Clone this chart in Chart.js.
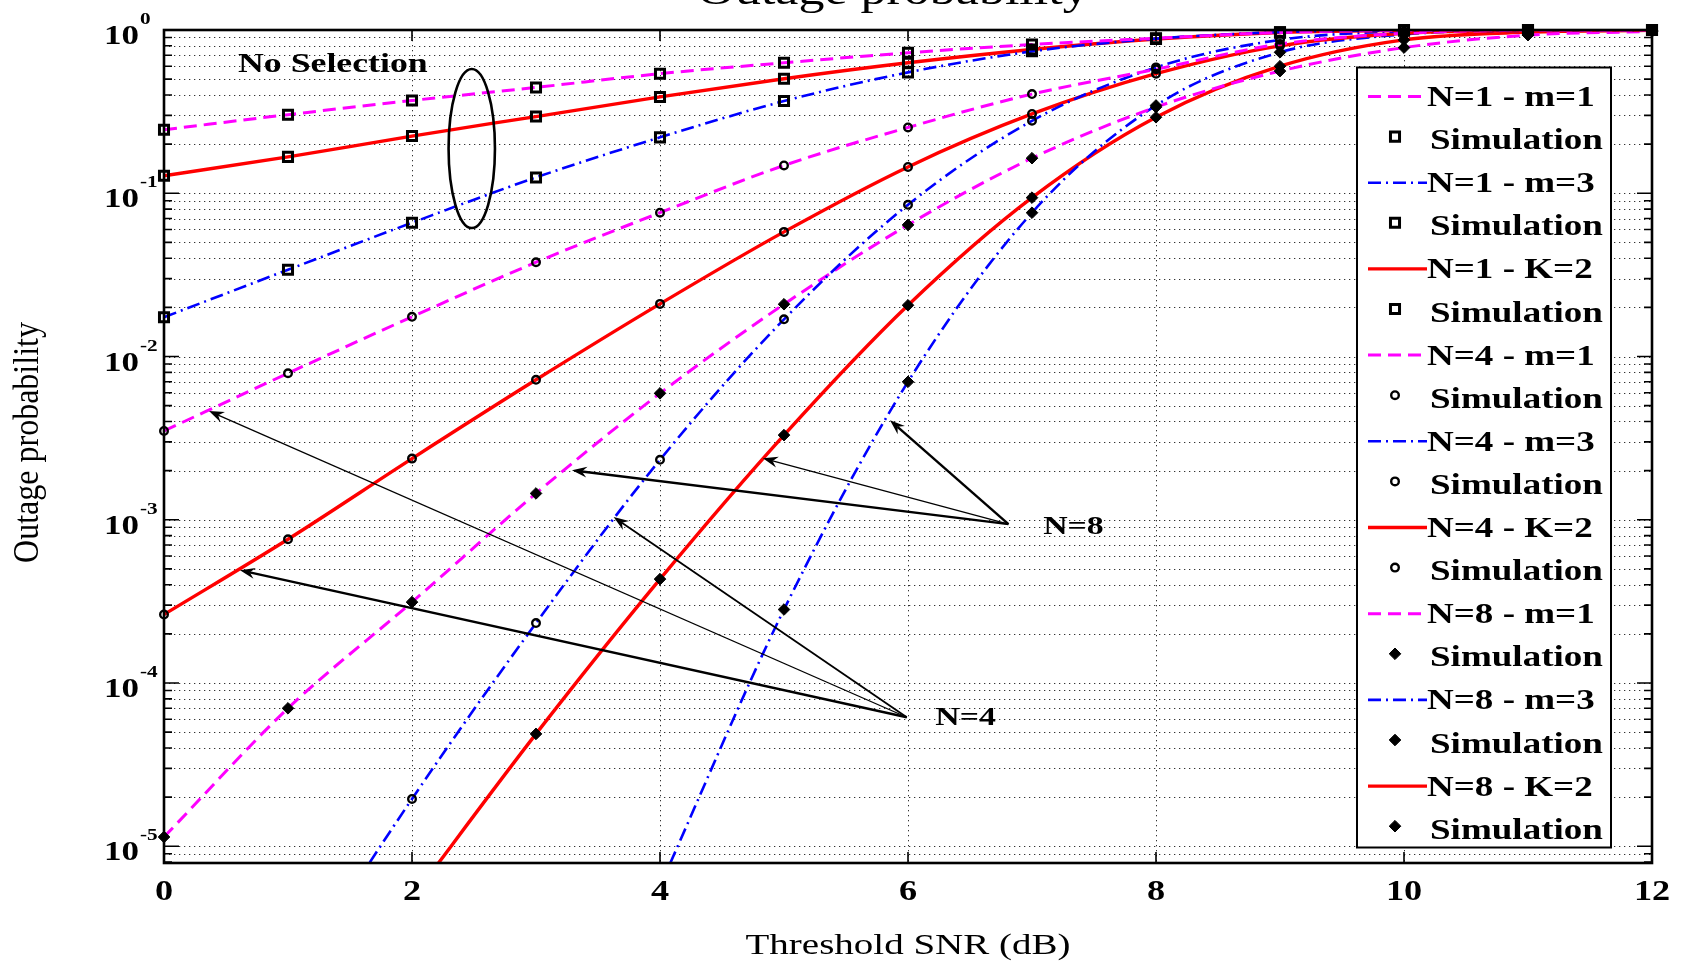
<!DOCTYPE html>
<html>
<head>
<meta charset="utf-8">
<title>Outage probability</title>
<script src="https://cdn.jsdelivr.net/npm/chart.js@4.4.1/dist/chart.umd.min.js"></script>
<style>
  html, body { margin: 0; padding: 0; background: #fff; }
</style>
</head>
<body>
<canvas id="outage" width="1682" height="963"></canvas>
<script>
// threshold SNR (dB)
const snr = [0, 1, 2, 3, 4, 5, 6, 7, 8, 9, 10, 11, 12];

// outage probability per SNR point (null = not reached on this axis)
const n1m1 = [0.245, 0.303, 0.37, 0.445, 0.54, 0.63, 0.725, 0.815, 0.89, 0.965, 0.995, 1.0, 1.0];
const n1m3 = [0.0174, 0.034, 0.066, 0.125, 0.22, 0.367, 0.55, 0.74, 0.885, 0.97, 0.997, 1.0, 1.0];
const n1k2 = [0.128, 0.167, 0.224, 0.295, 0.389, 0.503, 0.63, 0.76, 0.88, 0.965, 0.995, 1.0, 1.0];
const n4m1 = [0.0035, 0.0079, 0.0175, 0.0378, 0.076, 0.148, 0.253, 0.405, 0.575, 0.82, 0.955, 0.995, 1.0];
const n4m3 = [null, 1.35e-6, 1.95e-5, 2.33e-4, 2.33e-3, 0.0169, 0.085, 0.278, 0.59, 0.87, 0.98, 0.999, 1.0];
const n4k2 = [2.63e-4, 7.6e-4, 2.37e-3, 7.2e-3, 0.021, 0.058, 0.145, 0.306, 0.54, 0.80, 0.955, 0.995, 1.0];
const n8m1 = [1.14e-5, 7.0e-5, 3.13e-4, 1.45e-3, 5.95e-3, 0.0209, 0.064, 0.164, 0.337, 0.56, 0.78, 0.93, 0.98];
const n8m3 = [null, null, null, null, 5.7e-6, 2.82e-4, 7.0e-3, 0.076, 0.345, 0.73, 0.94, 0.99, 1.0];
const n8k2 = [null, null, 4.8e-6, 4.88e-5, 4.33e-4, 3.3e-3, 0.0206, 0.094, 0.292, 0.60, 0.87, 0.97, 0.995];

const xTicks = [0, 2, 4, 6, 8, 10, 12];
const yDecades = [0, -1, -2, -3, -4, -5];
const Y_MIN = 7.9e-6;
const Y_MAX = 1;

// legend order: each analytical curve followed by its simulation markers
const curves = [
  { label: 'N=1 - m=1', data: n1m1, line: 'm1', marker: 'rect' },
  { label: 'N=1 - m=3', data: n1m3, line: 'm3', marker: 'rect' },
  { label: 'N=1 - K=2', data: n1k2, line: 'k2', marker: 'rect' },
  { label: 'N=4 - m=1', data: n4m1, line: 'm1', marker: 'circle' },
  { label: 'N=4 - m=3', data: n4m3, line: 'm3', marker: 'circle' },
  { label: 'N=4 - K=2', data: n4k2, line: 'k2', marker: 'circle' },
  { label: 'N=8 - m=1', data: n8m1, line: 'm1', marker: 'rectRot' },
  { label: 'N=8 - m=3', data: n8m3, line: 'm3', marker: 'rectRot' },
  { label: 'N=8 - K=2', data: n8k2, line: 'k2', marker: 'rectRot' }
];

const lineStyles = {
  m1: { color: '#ff00ff', dash: [13, 7], width: 3 },
  m3: { color: '#0000ff', dash: [13, 5, 2, 5], width: 2.6 },
  k2: { color: '#ff0000', dash: [], width: 3.4 }
};
const markerStyles = {
  rect: { radius: 6.4, fill: 'rgba(0,0,0,0)', border: 3 },
  circle: { radius: 3.8, fill: 'rgba(0,0,0,0)', border: 2.4 },
  rectRot: { radius: 5.8, fill: '#000', border: 1 }
};

// annotation anchors in data units (dB, probability)
const arrowsN8 = { from: [6.81, 9.4e-4], to: [[5.855, 4.07e-3, 2.4], [4.83, 2.38e-3, 1.3], [3.29, 2.01e-3, 2.4]] };
const arrowsN4 = { from: [5.99, 6.17e-5], to: [[0.363, 4.63e-3, 1.3], [0.613, 4.91e-4, 2.4], [3.626, 1.04e-3, 1.8]] };
const labelN8 = [7.09, 9.27e-4];
const labelN4 = [6.22, 6.26e-5];
const labelNoSel = [0.597, 0.637];
const ellipseBox = [2.295, 2.669, 0.577, 0.0612];

const SERIF = '"Liberation Serif", "Times New Roman", serif';
const STRETCH = 1.3;

const points = arr => snr.map((x, i) => ({ x: x, y: arr[i] }));
const visible = arr => snr.map((x, i) => ({ x: x, y: arr[i] !== null && arr[i] >= Y_MIN ? arr[i] : null }));

const datasets = [];
curves.forEach(c => {
  const ls = lineStyles[c.line];
  datasets.push({
    label: c.label,
    data: points(c.data),
    borderColor: ls.color,
    borderWidth: ls.width,
    borderDash: ls.dash,
    pointRadius: 0,
    fill: false,
    cubicInterpolationMode: 'monotone',
    order: 1
  });
  const ms = markerStyles[c.marker];
  datasets.push({
    label: 'Simulation',
    data: visible(c.data),
    showLine: false,
    pointStyle: c.marker,
    pointRadius: ms.radius,
    pointBackgroundColor: ms.fill,
    pointBorderColor: '#000',
    pointBorderWidth: ms.border,
    clip: false,
    order: 0
  });
});

function stretchedText(ctx, str, x, y, font, align, sx) {
  ctx.save();
  ctx.font = font;
  ctx.fillStyle = '#000';
  ctx.textAlign = align;
  ctx.textBaseline = 'alphabetic';
  ctx.translate(x, y);
  ctx.scale(sx, 1);
  ctx.fillText(str, 0, 0);
  ctx.restore();
}

function arrow(ctx, x1, y1, x2, y2, width) {
  const ang = Math.atan2(y2 - y1, x2 - x1);
  const len = 15, half = 5.5, notch = 10;
  ctx.save();
  ctx.strokeStyle = '#000';
  ctx.fillStyle = '#000';
  ctx.lineWidth = width;
  ctx.beginPath();
  ctx.moveTo(x1, y1);
  ctx.lineTo(x2 - Math.cos(ang) * notch, y2 - Math.sin(ang) * notch);
  ctx.stroke();
  ctx.translate(x2, y2);
  ctx.rotate(ang);
  ctx.beginPath();
  ctx.moveTo(0, 0);
  ctx.lineTo(-len, -half);
  ctx.lineTo(-notch, 0);
  ctx.lineTo(-len, half);
  ctx.closePath();
  ctx.fill();
  ctx.restore();
}

function drawMarker(ctx, kind, x, y) {
  const ms = markerStyles[kind];
  ctx.save();
  ctx.strokeStyle = '#000';
  ctx.lineWidth = ms.border;
  ctx.fillStyle = ms.fill;
  ctx.beginPath();
  if (kind === 'rect') {
    const s = ms.radius * Math.SQRT1_2;
    ctx.rect(x - s, y - s, 2 * s, 2 * s);
  } else if (kind === 'circle') {
    ctx.arc(x, y, ms.radius, 0, Math.PI * 2);
  } else {
    const r = ms.radius;
    ctx.moveTo(x, y - r); ctx.lineTo(x + r, y); ctx.lineTo(x, y + r); ctx.lineTo(x - r, y); ctx.closePath();
  }
  ctx.fill();
  ctx.stroke();
  ctx.restore();
}

const matlabAxes = {
  id: 'matlabAxes',
  beforeDatasetsDraw(chart) {
    const { ctx, chartArea: a, scales: { x, y } } = chart;
    ctx.save();
    ctx.strokeStyle = 'rgba(0,0,0,0.8)';
    ctx.lineWidth = 1;
    ctx.setLineDash([1.3, 3.7]);
    ctx.beginPath();
    xTicks.forEach(v => {
      if (v <= x.min || v >= x.max) return;
      const px = Math.round(x.getPixelForValue(v)) + 0.5;
      ctx.moveTo(px, a.top); ctx.lineTo(px, a.bottom);
    });
    for (let e = -6; e <= 0; e++) {
      for (let k = 1; k <= 9; k++) {
        const v = k * Math.pow(10, e);
        if (v <= Y_MIN || v >= Y_MAX) continue;
        const py = Math.round(y.getPixelForValue(v)) + 0.5;
        ctx.moveTo(a.left, py); ctx.lineTo(a.right, py);
      }
    }
    ctx.stroke();
    ctx.restore();
  },
  afterDatasetsDraw(chart) {
    const { ctx, chartArea: a, scales: { x, y } } = chart;
    ctx.save();
    ctx.strokeStyle = '#000';
    ctx.lineWidth = 1.6;
    ctx.beginPath();
    // ticks pointing inward on all four sides
    xTicks.forEach(v => {
      const px = x.getPixelForValue(v);
      ctx.moveTo(px, a.bottom); ctx.lineTo(px, a.bottom - 11);
      ctx.moveTo(px, a.top); ctx.lineTo(px, a.top + 11);
    });
    for (let e = -6; e <= 0; e++) {
      for (let k = 1; k <= 9; k++) {
        const v = k * Math.pow(10, e);
        if (v < Y_MIN || v > Y_MAX) continue;
        const py = y.getPixelForValue(v);
        const len = k === 1 ? 15 : 8;
        ctx.moveTo(a.left, py); ctx.lineTo(a.left + len, py);
        ctx.moveTo(a.right, py); ctx.lineTo(a.right - len, py);
      }
    }
    ctx.stroke();
    ctx.lineWidth = 2.6;
    ctx.strokeRect(a.left, a.top, a.right - a.left, a.bottom - a.top);
    ctx.restore();

    // tick labels
    xTicks.forEach(v => {
      stretchedText(ctx, String(v), x.getPixelForValue(v), 900, 'bold 29px ' + SERIF, 'center', 1.25);
    });
    yDecades.forEach(e => {
      const py = y.getPixelForValue(Math.pow(10, e));
      stretchedText(ctx, '10', 139, py + 14, 'bold 28px ' + SERIF, 'right', 1.25);
      stretchedText(ctx, String(e), 140, py - 6, 'bold 17px ' + SERIF, 'left', 1.25);
    });

    // axis titles
    stretchedText(ctx, 'Threshold SNR (dB)', (a.left + a.right) / 2, 954, '30px ' + SERIF, 'center', STRETCH);
    ctx.save();
    ctx.font = '32px ' + SERIF;
    ctx.fillStyle = '#000';
    ctx.textAlign = 'center';
    ctx.textBaseline = 'alphabetic';
    ctx.translate(38, (a.top + a.bottom) / 2 - 4);
    ctx.scale(1.15, 1);
    ctx.rotate(-Math.PI / 2);
    ctx.fillText('Outage probability', 0, 0);
    ctx.restore();

    // title, mostly above the top edge of the figure
    stretchedText(ctx, 'Outage probability', 893, 4, '40px ' + SERIF, 'center', STRETCH);

    // annotations
    const P = (p) => [x.getPixelForValue(p[0]), y.getPixelForValue(p[1])];
    [arrowsN8, arrowsN4].forEach(g => {
      const f = P(g.from);
      g.to.forEach(t => {
        const p = P(t);
        arrow(ctx, f[0], f[1], p[0], p[1], t[2]);
      });
    });
    let p = P(labelN8);
    stretchedText(ctx, 'N=8', p[0], p[1] + 9, 'bold 26px ' + SERIF, 'left', STRETCH);
    p = P(labelN4);
    stretchedText(ctx, 'N=4', p[0], p[1] + 9, 'bold 26px ' + SERIF, 'left', STRETCH);
    p = P(labelNoSel);
    stretchedText(ctx, 'No Selection', p[0], p[1] + 10, 'bold 27.5px ' + SERIF, 'left', STRETCH);

    const ex1 = x.getPixelForValue(ellipseBox[0]), ex2 = x.getPixelForValue(ellipseBox[1]);
    const ey1 = y.getPixelForValue(ellipseBox[2]), ey2 = y.getPixelForValue(ellipseBox[3]);
    ctx.save();
    ctx.strokeStyle = '#000';
    ctx.lineWidth = 2.6;
    ctx.beginPath();
    ctx.ellipse((ex1 + ex2) / 2, (ey1 + ey2) / 2, (ex2 - ex1) / 2, (ey2 - ey1) / 2, 0, 0, Math.PI * 2);
    ctx.stroke();
    ctx.restore();

    // legend box
    const L = { left: 1357, right: 1611, top: 67.5, bottom: 847.5, first: 96.5, step: 43.1 };
    ctx.save();
    ctx.fillStyle = '#fff';
    ctx.fillRect(L.left, L.top, L.right - L.left, L.bottom - L.top);
    ctx.strokeStyle = '#000';
    ctx.lineWidth = 2;
    ctx.strokeRect(L.left, L.top, L.right - L.left, L.bottom - L.top);
    ctx.restore();
    curves.forEach((c, i) => {
      const ls = lineStyles[c.line];
      const yl = L.first + 2 * i * L.step;
      const ys = yl + L.step;
      ctx.save();
      ctx.strokeStyle = ls.color;
      ctx.lineWidth = ls.width;
      ctx.setLineDash(ls.dash);
      ctx.beginPath();
      ctx.moveTo(1368, yl); ctx.lineTo(1427, yl);
      ctx.stroke();
      ctx.restore();
      stretchedText(ctx, c.label, 1427, yl + 9.5, 'bold 28.5px ' + SERIF, 'left', STRETCH);
      drawMarker(ctx, c.marker, 1395, ys - 3);
      stretchedText(ctx, 'Simulation', 1430, ys + 9.5, 'bold 28.5px ' + SERIF, 'left', STRETCH);
    });
  }
};

new Chart(document.getElementById('outage').getContext('2d'), {
  type: 'line',
  data: { datasets: datasets },
  options: {
    responsive: false,
    animation: false,
    devicePixelRatio: 1,
    layout: { padding: { top: 30, right: 30, left: 0, bottom: 0 } },
    plugins: { legend: { display: false }, tooltip: { enabled: false } },
    scales: {
      x: {
        type: 'linear', min: 0, max: 12,
        grid: { display: false }, border: { display: false }, ticks: { display: false },
        afterFit: s => { s.height = 100; }
      },
      y: {
        type: 'logarithmic', min: Y_MIN, max: Y_MAX,
        grid: { display: false }, border: { display: false }, ticks: { display: false },
        afterFit: s => { s.width = 164; }
      }
    }
  },
  plugins: [matlabAxes]
});
</script>
</body>
</html>
